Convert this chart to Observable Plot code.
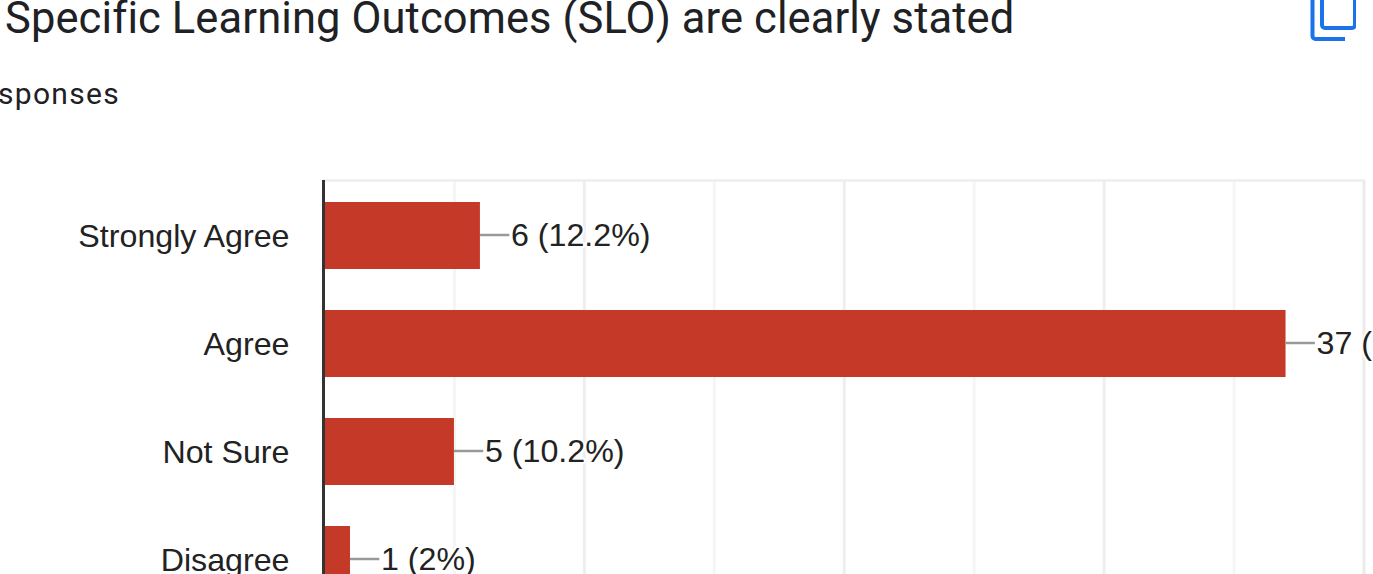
<!DOCTYPE html>
<html><head><meta charset="utf-8">
<script src="https://cdn.jsdelivr.net/npm/d3@7"></script>
<script src="https://cdn.jsdelivr.net/npm/@observablehq/plot@0.6"></script>
<style>
html,body{margin:0;padding:0;background:#fff;overflow:hidden;width:1373px;height:574px}
#head{position:relative;height:160px;overflow:hidden}
#title{position:absolute;left:5px;top:-7px;font:43.500px Roboto,sans-serif;letter-spacing:.1px;color:#202124;white-space:nowrap}
#sub{position:absolute;left:-2px;top:76px;font:30px Roboto,sans-serif;letter-spacing:1.3px;color:#202124;white-space:nowrap}
#icon{position:absolute;left:1310px;top:-10px}
</style></head><body>
<div id="head">
<div id="title">Specific Learning Outcomes (SLO) are clearly stated</div>
<div id="sub">sponses</div>
<svg id="icon" width="46" height="52" viewBox="0 0 46 52" fill="none" stroke="#1a73e8" stroke-width="4"><path d="M2.500 6V46a3 3 0 0 0 3 3H35"/><rect x="12" y="0" width="33" height="38" rx="3"/></svg>
</div>
<div id="chart"></div>
<script>
const categories = ["Strongly Agree","Agree","Not Sure","Disagree"];
const counts = [6,37,5,1];
const labels = ["6 (12.2%)","37 (75.5%)","5 (10.2%)","1 (2%)"];
const lightTicks = [5,15,25,35];
const darkTicks = [10,20,30];
const rows = categories.map((c,i)=>({c,v:counts[i],l:labels[i]}));
const fig = Plot.plot({
  width:1373, height:414,
  marginLeft:324, marginRight:9.500, marginTop:20, marginBottom:0,
  x:{domain:[0,40],axis:null},
  y:{domain:categories,range:[19.800,454.500],paddingInner:0.38,paddingOuter:0.19,axis:null},
  marks:[
    Plot.ruleX(lightTicks,{stroke:"#f5f5f5",strokeWidth:3}),
    Plot.ruleX(darkTicks,{stroke:"#eeeeee",strokeWidth:3}),
    Plot.ruleX([40],{stroke:"#ebebeb",strokeWidth:3}),
    Plot.frame({anchor:"top",stroke:"#eeeeee",strokeWidth:2.500}),
    Plot.barX(rows,{x:"v",y:"c",fill:"#c53929"}),
    Plot.ruleX([0],{stroke:"#333333",strokeWidth:3,dx:-1}),
    Plot.ruleY(rows,{y:"c",x1:"v",x2:d=>d.v+1.13,stroke:"#999999",strokeWidth:2.500,dy:-1}),
    Plot.text(rows,{x:d=>d.v,y:"c",text:"l",textAnchor:"start",dx:30.500,dy:-0.500,fontSize:32.200,fontFamily:"Liberation Sans",fill:"#222222",stroke:"#ffffff",strokeWidth:4,paintOrder:"stroke"}),
    Plot.text(rows,{x:()=>0,y:"c",text:"c",textAnchor:"end",dx:-35,dy:0.500,fontSize:32.200,fontFamily:"Liberation Sans",fill:"#222222"})
  ]
});
fig.style.fontFamily="Liberation Sans";
document.getElementById("chart").appendChild(fig);
</script>
</body></html>
